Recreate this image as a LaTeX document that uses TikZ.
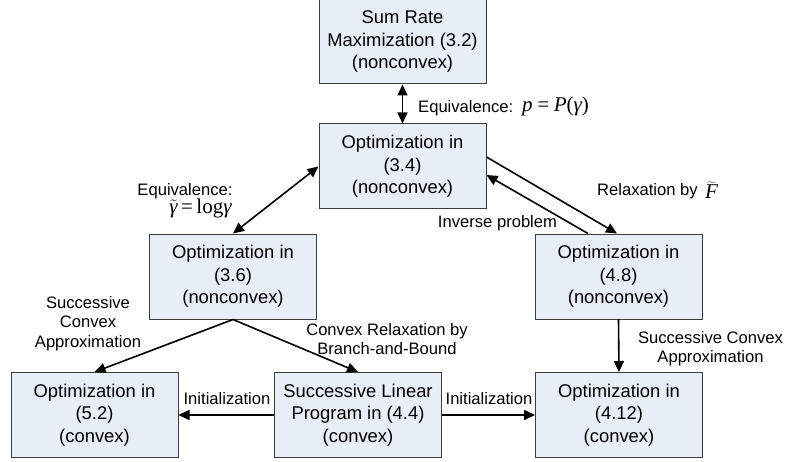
\documentclass[tikz,border=0pt]{standalone}
\usepackage{fontspec}
\setmainfont{Liberation Sans}
\newfontfamily\tmsfont{Liberation Serif}
\usetikzlibrary{arrows.meta}
\definecolor{boxfill}{RGB}{232,238,247}
\definecolor{boxline}{RGB}{60,60,60}
\tikzset{
  probbox/.style={draw=boxline, line width=1pt, fill=boxfill, align=center,
    minimum width=167pt, minimum height=85pt, inner sep=0pt,
    font=\fontsize{18.4}{22.5}\selectfont},
  lbl/.style={inner sep=0pt, align=center, font=\fontsize{16.6}{19.5}\selectfont},
  mth/.style={inner sep=0pt, font=\fontsize{21}{24}\selectfont\tmsfont},
  flow/.style={line width=1.6pt, -{Triangle[length=11pt,width=10pt]}},
  dflow/.style={line width=1.6pt, {Triangle[length=11pt,width=10pt]}-{Triangle[length=11pt,width=10pt]}}
}
\begin{document}
\begin{tikzpicture}[x=1pt,y=-1pt]
\useasboundingbox (0,0) rectangle (786,462);

% problem boxes
\node[probbox] (sr)   at (402.5,41.5)  {Sum Rate\\Maximization (3.2)\\(nonconvex)};
\node[probbox] (o34)  at (402.5,166.5) {Optimization in\\(3.4)\\(nonconvex)};
\node[probbox] (o36)  at (233,276.5)   {Optimization in\\(3.6)\\(nonconvex)};
\node[probbox] (o48)  at (618.5,276.5) {Optimization in\\(4.8)\\(nonconvex)};
\node[probbox] (o52)  at (94.5,415)    {Optimization in\\(5.2)\\(convex)};
\node[probbox] (slp)  at (358,415)     {Successive Linear\\Program in (4.4)\\(convex)};
\node[probbox] (o412) at (619,415)     {Optimization in\\(4.12)\\(convex)};

% connectors
\draw[dflow] (sr.south) -- (o34.north);
\draw[dflow] (o34.west) -- (o36.north);
\draw[flow] ([yshift=9.5pt]o34.east) -- ([xshift=-1.5pt]o48.north);
\draw[flow] ([xshift=-30.5pt]o48.north) -- ([yshift=-8.5pt]o34.east);
\draw[flow] (o36.south) -- (o52.north);
\draw[flow] (o36.south) -- (slp.north);
\draw[flow] (slp.west) -- (o52.east);
\draw[flow] (slp.east) -- (o412.west);
\draw[flow] (o48.south) -- (o412.north);

% connector labels
\node[lbl, anchor=west] (eqa) at (418,108) {Equivalence:};
\node[mth, anchor=west] (eqam) at (522,106) {\itshape p\,=\,P\upshape(\itshape γ\upshape)};
\node[lbl] (eqb) at (185,191) {Equivalence:};
\node[mth, anchor=base] (eqbm) at (200.5,214) {\smash{$\tilde{\hbox{\tmsfont\itshape γ}}$}\,=\,log\itshape γ};
\node[lbl, anchor=west] (rlx) at (597,191) {Relaxation by};
\node[mth, anchor=base west] (rlxm) at (705,199) {\smash{$\widetilde{\hbox{\tmsfont\itshape F}}$}};
\node[lbl] (inv) at (497.5,223) {Inverse problem};
\node[lbl] (scal) at (88,323.5) {Successive\\Convex\\Approximation};
\node[lbl] (crbb) at (387,339) {Convex Relaxation by\\Branch-and-Bound};
\node[lbl] (inil) at (227,399) {Initialization};
\node[lbl] (inir) at (489,399) {Initialization};
\node[lbl] (scar) at (710.5,348.5) {Successive Convex\\Approximation};
\end{tikzpicture}
\end{document}
